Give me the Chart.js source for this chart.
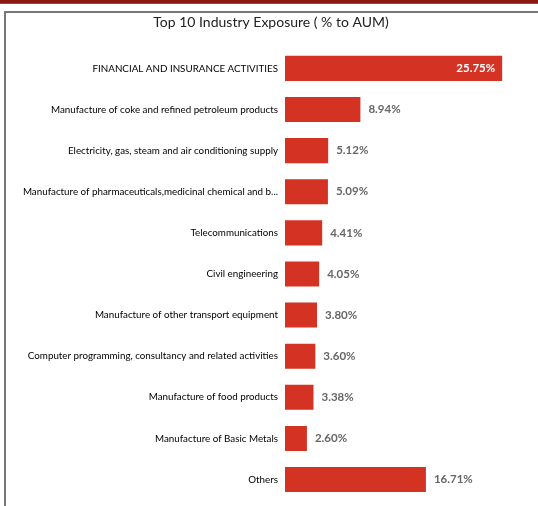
<!DOCTYPE html>
<html>
<head>
<meta charset="utf-8">
<script src="https://cdn.jsdelivr.net/npm/chart.js@4.4.1/dist/chart.umd.min.js"></script>
<style>
    html, body { margin: 0; padding: 0; background: #fff; }
    #wrap { position: relative; width: 538px; height: 506px; overflow: hidden; }
    .topband { position: absolute; left: 0; top: 0; width: 538px; height: 3px; background: #8a1a10; border-bottom: 1px solid #c0392b; }
    .frame { position: absolute; left: 4px; top: 11px; width: 540px; height: 500px; border-top: 2px solid #777; border-left: 2px solid #777; box-sizing: border-box; }
    canvas { position: absolute; left: 0; top: 0; }
</style>
</head>
<body>
<div id="wrap">
    <div class="topband"></div>
    <div class="frame"></div>
    <canvas id="exposureChart" width="538" height="506"></canvas>
</div>
<script>
// Sector weights as % of AUM
const industries = [
    'FINANCIAL AND INSURANCE ACTIVITIES',
    'Manufacture of coke and refined petroleum products',
    'Electricity, gas, steam and air conditioning supply',
    'Manufacture of pharmaceuticals,medicinal chemical and b...',
    'Telecommunications',
    'Civil engineering',
    'Manufacture of other transport equipment',
    'Computer programming, consultancy and related activities',
    'Manufacture of food products',
    'Manufacture of Basic Metals',
    'Others'
];
const exposure = [25.75, 8.94, 5.12, 5.09, 4.41, 4.05, 3.80, 3.60, 3.38, 2.60, 16.71];

const barColor = '#d43222';
const labelFont = 'Lato, "Noto Sans", sans-serif';

// Writes the percentage next to each bar (inside the bar when it is long)
const valueLabels = {
    id: 'valueLabels',
    afterDatasetsDraw(chart) {
        const ctx = chart.ctx;
        const meta = chart.getDatasetMeta(0);
        const maxVal = Math.max(...exposure);
        ctx.save();
        ctx.font = 'bold 11.5px ' + labelFont;
        ctx.textBaseline = 'middle';
        meta.data.forEach((bar, i) => {
            const text = exposure[i].toFixed(2) + '%';
            if (exposure[i] === maxVal) {
                ctx.fillStyle = '#ffffff';
                ctx.textAlign = 'right';
                ctx.fillText(text, bar.x - 7, bar.y);
            } else {
                ctx.fillStyle = '#666666';
                ctx.textAlign = 'left';
                ctx.fillText(text, bar.x + 8, bar.y);
            }
        });
        ctx.restore();
    }
};

const ctx = document.getElementById('exposureChart').getContext('2d');
new Chart(ctx, {
    type: 'bar',
    data: {
        labels: industries,
        datasets: [{
            data: exposure,
            backgroundColor: barColor,
            borderWidth: 0,
            barPercentage: 0.61,
            categoryPercentage: 1
        }]
    },
    options: {
        responsive: false,
        animation: false,
        indexAxis: 'y',
        layout: {
            padding: { top: 0, right: 0, bottom: 0, left: 4 }
        },
        scales: {
            x: {
                display: false,
                min: 0,
                max: 30
            },
            y: {
                grid: { display: false, tickLength: 7 },
                border: { display: false },
                ticks: {
                    color: '#000',
                    padding: 0,
                    autoSkip: false,
                    font: { family: labelFont, size: 9.8 }
                },
                afterFit(scale) {
                    scale.width = 281;
                }
            }
        },
        plugins: {
            legend: { display: false },
            tooltip: { enabled: false },
            title: {
                display: true,
                text: 'Top 10 Industry Exposure ( % to AUM)',
                color: '#222',
                font: { family: labelFont, size: 14, weight: 'normal' },
                padding: { top: 14, bottom: 17 }
            }
        }
    },
    plugins: [valueLabels]
});
</script>
</body>
</html>
